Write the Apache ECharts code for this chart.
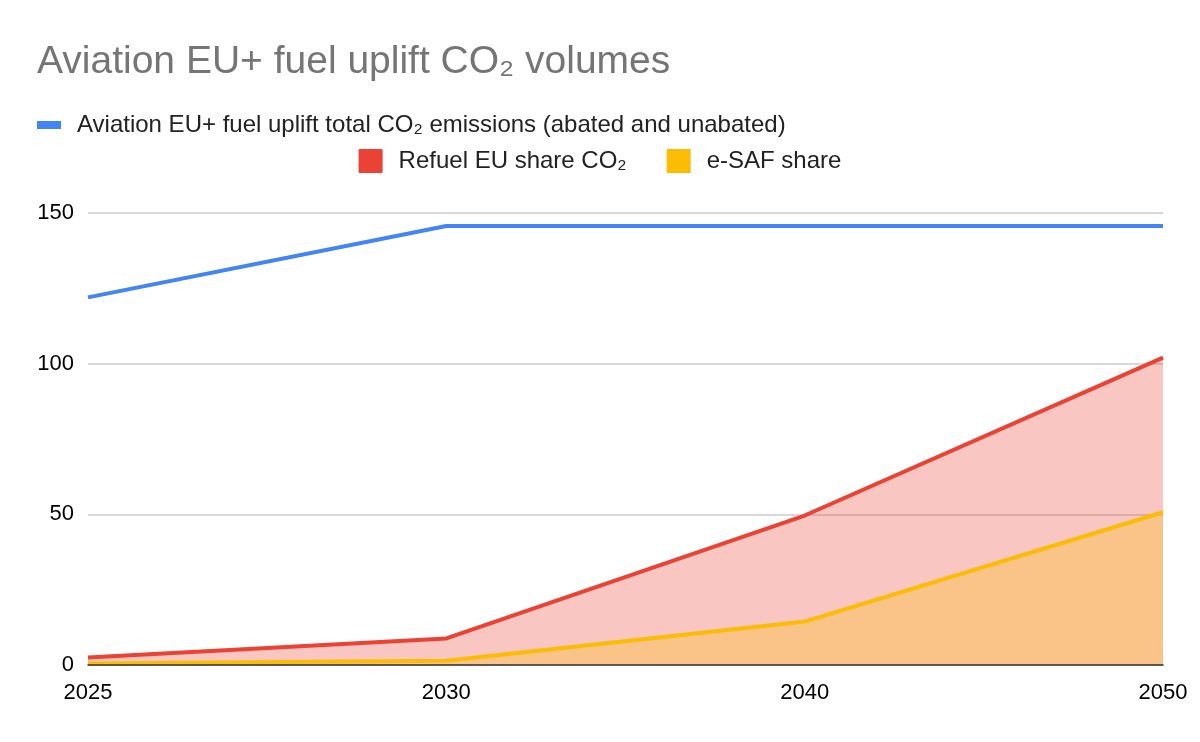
<!DOCTYPE html>
<html>
<head>
<meta charset="utf-8">
<script src="https://cdn.jsdelivr.net/npm/echarts@6/dist/echarts.min.js"></script>
<style>
html,body{margin:0;padding:0;background:#fff;}
#chart{width:1200px;height:742px;}
</style>
</head>
<body>
<div id="chart"></div>
<script>
const categories = ['2025', '2030', '2040', '2050'];
const totalEmissions = [122, 145.7, 145.7, 145.7];
const refuelShare = [2.5, 8.8, 49.6, 102];
const esafShare = [0.5, 1.4, 14.4, 50.7];
const yTicks = [0, 50, 100, 150];

const FONT = '"Liberation Sans", Arial, sans-serif';
const ICON_RECT = 'path://M1,0 L23,0 Q24,0 24,1 L24,23 Q24,24 23,24 L1,24 Q0,24 0,23 L0,1 Q0,0 1,0 Z';
const chart = echarts.init(document.getElementById('chart'), null, {renderer: 'canvas'});
chart.setOption({
  backgroundColor: '#ffffff',
  animation: false,
  title: {
    text: 'Aviation EU+ fuel uplift CO₂ volumes',
    left: 37, top: 43, padding: 0,
    textStyle: {fontFamily: FONT, fontSize: 39, fontWeight: 'normal', color: '#757575'}
  },
  legend: [
    {
      data: ['Aviation EU+ fuel uplift total CO₂ emissions (abated and unabated)'],
      left: 37, top: 113, padding: 0,
      itemWidth: 24, itemHeight: 8, itemGap: 40,
      icon: 'rect',
      textStyle: {fontFamily: FONT, fontSize: 24, color: '#222', padding: [0, 0, 0, 11]}
    },
    {
      data: ['Refuel EU share CO₂', 'e-SAF share'],
      left: 'center', top: 149, padding: 0,
      itemWidth: 24, itemHeight: 24, itemGap: 40,
      icon: ICON_RECT,
      textStyle: {fontFamily: FONT, fontSize: 24, color: '#222', padding: [0, 0, 0, 11]}
    }
  ],
  grid: {left: 88, right: 37, top: 213, bottom: 77, containLabel: false},
  xAxis: {
    type: 'category',
    data: categories,
    boundaryGap: false,
    axisLine: {show: true, lineStyle: {color: '#333', width: 1.5}},
    axisTick: {show: false},
    axisLabel: {fontFamily: FONT, fontSize: 22, color: '#000', margin: 17},
    splitLine: {show: false},
    z: 10
  },
  yAxis: {
    type: 'value',
    min: yTicks[0], max: yTicks[yTicks.length - 1], interval: 50,
    axisLine: {show: false},
    axisTick: {show: false},
    axisLabel: {fontFamily: FONT, fontSize: 22, color: '#000', margin: 14, padding: [2, 0, 0, 0]},
    splitLine: {lineStyle: {color: '#cccccc', width: 1.5}}
  },
  series: [
    {
      name: 'Aviation EU+ fuel uplift total CO₂ emissions (abated and unabated)',
      type: 'line', data: totalEmissions, showSymbol: false, symbol: 'none',
      color: '#4285f4', lineStyle: {width: 4, color: '#4285f4'}
    },
    {
      name: 'Refuel EU share CO₂',
      type: 'line', data: refuelShare, showSymbol: false, symbol: 'none',
      color: '#ea4335', lineStyle: {width: 4, color: '#ea4335'},
      areaStyle: {color: '#ea4335', opacity: 0.3, origin: 'start'}
    },
    {
      name: 'e-SAF share',
      type: 'line', data: esafShare, showSymbol: false, symbol: 'none',
      color: '#fbbc04', lineStyle: {width: 4, color: '#fbbc04'},
      areaStyle: {color: '#fbbc04', opacity: 0.3, origin: 'start'}
    }
  ]
});
</script>
</body>
</html>
